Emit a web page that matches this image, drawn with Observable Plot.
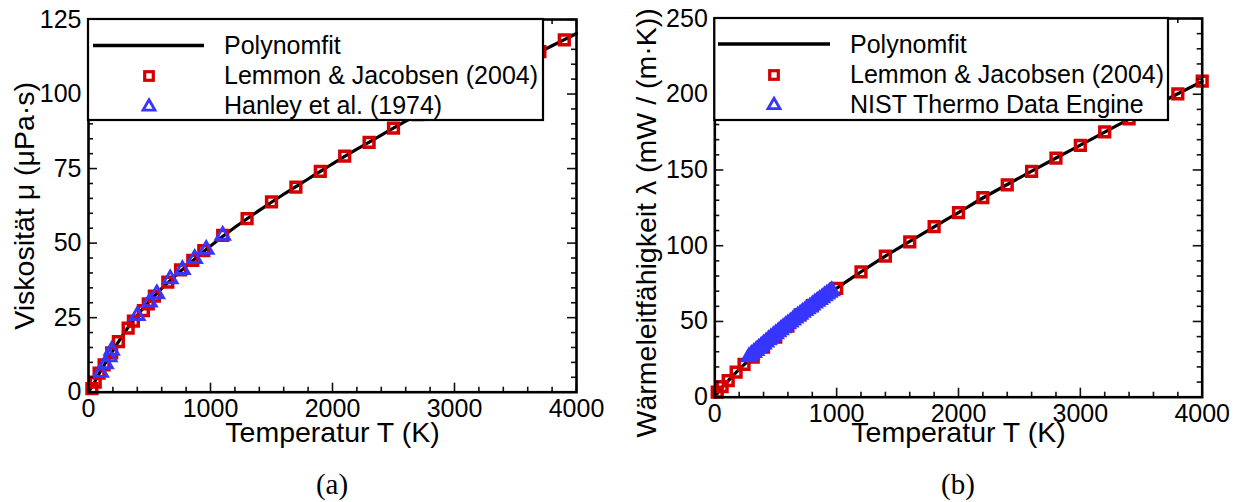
<!DOCTYPE html>
<html>
<head>
<meta charset="utf-8">
<script src="https://cdn.jsdelivr.net/npm/d3@7"></script>
<script src="https://cdn.jsdelivr.net/npm/@observablehq/plot@0.6"></script>
<style>
  html, body { margin: 0; padding: 0; background: #fff; }
  #root { position: relative; width: 1242px; height: 502px; overflow: hidden; }
  .panel { position: absolute; top: 0; }
  #overlay { position: absolute; left: 0; top: 0; z-index: 5; }
</style>
</head>
<body>
<div id="root">
  <div id="pa" class="panel" style="left:0px"></div>
  <div id="pb" class="panel" style="left:621px"></div>
</div>
<script>
// ---------------- data ----------------
const FONT = '"Liberation Sans", Arial, Helvetica, sans-serif';
const RED = "#d40000";
const BLUE = "#3636ff";

const seriesNamesA = ["Polynomfit", "Lemmon & Jacobsen (2004)", "Hanley et al. (1974)"];
const seriesNamesB = ["Polynomfit", "Lemmon & Jacobsen (2004)", "NIST Thermo Data Engine"];
const captions = ["(a)", "(b)"];
const xTitle = "Temperatur T (K)";
const yTitleA = "Viskosität μ (μPa·s)";
const yTitleB = "Wärmeleitfähigkeit λ (mW / (m·K))";

const xMajor = [0, 1000, 2000, 3000, 4000];
const xMinor = [200, 400, 600, 800, 1200, 1400, 1600, 1800, 2200, 2400, 2600, 2800, 3200, 3400, 3600, 3800];
const yMajorA = [0, 25, 50, 75, 100, 125];
const yMinorA = [5, 10, 15, 20, 30, 35, 40, 45, 55, 60, 65, 70, 80, 85, 90, 95, 105, 110, 115, 120];
const yMajorB = [0, 50, 100, 150, 200, 250];
const yMinorB = [10, 20, 30, 40, 60, 70, 80, 90, 110, 120, 130, 140, 160, 170, 180, 190, 210, 220, 230, 240];

// (a) viscosity
const fitT_A  = [0, 50, 100, 200, 300, 400, 500, 600, 700, 800, 900, 1000, 1200, 1400, 1600, 1800, 2000, 2200, 2400, 2600, 2800, 3000, 3200, 3400, 3600, 3800, 4000];
const fitMu_A = [0, 3.4, 7.1, 13.9, 20.3, 25.8, 30.5, 34.8, 38.6, 42.2, 45.6, 49.0, 55.3, 61.0, 66.4, 71.5, 76.6, 81.5, 86.2, 90.9, 95.3, 99.6, 103.9, 108.0, 112.1, 116.2, 120.3];

const lemmonT_A  = [28, 55, 87, 128, 190, 245, 325, 368, 450, 490, 540, 650, 755, 855, 945, 1100, 1300, 1500, 1700, 1900, 2100, 2300, 2500, 2700, 2900, 3100, 3300, 3500, 3700, 3900];
const lemmonMu_A = [1.2, 3.4, 6.4, 9.2, 13.2, 17.0, 21.5, 23.8, 27.4, 29.6, 32.2, 36.9, 41.0, 44.2, 47.5, 52.6, 58.2, 63.8, 68.8, 74.1, 79.2, 83.8, 88.6, 93.1, 97.5, 101.8, 106.0, 110.1, 114.2, 118.2];

const hanleyT_A  = [100, 140, 170, 190, 400, 500, 560, 670, 770, 870, 965, 1100];
const hanleyMu_A = [6.6, 9.5, 11.8, 14.0, 25.7, 30.2, 33.0, 38.0, 41.1, 44.8, 47.9, 52.6];

// (b) thermal conductivity
const fitT_B   = [0, 50, 100, 200, 300, 400, 500, 600, 700, 800, 900, 1000, 1200, 1400, 1600, 1800, 2000, 2200, 2400, 2600, 2800, 3000, 3200, 3400, 3600, 3800, 4000];
const fitLam_B = [0, 5.5, 10.0, 18.3, 26.0, 33.2, 40.2, 47.0, 53.6, 60.0, 66.0, 71.9, 82.8, 93.2, 102.8, 112.5, 121.9, 131.5, 140.4, 149.2, 157.9, 166.4, 175.0, 183.6, 192.0, 200.3, 208.5];

const lemmonT_B   = [20, 60, 110, 175, 240, 315, 400, 500, 600, 700, 800, 1000, 1200, 1400, 1600, 1800, 2000, 2200, 2400, 2600, 2800, 3000, 3200, 3400, 3600, 3800, 4000];
const lemmonLam_B = [3.3, 7.0, 11.0, 16.6, 21.6, 26.5, 33.0, 39.7, 47.0, 54.3, 60.5, 71.8, 82.8, 93.2, 102.6, 112.6, 121.9, 131.8, 140.2, 149.0, 157.9, 166.2, 175.1, 183.7, 192.0, 200.3, 208.6];

const nistT_B   = [280, 300, 320, 340, 360, 380, 400, 420, 440, 460, 480, 500, 520, 540, 560, 580, 600, 620, 640, 660, 680, 700, 720, 740, 760, 780, 800, 820, 840, 860, 880, 900, 920, 940, 960];
const nistLam_B = [26.6, 28.0, 29.4, 30.8, 32.2, 33.6, 35.0, 36.4, 37.8, 39.1, 40.5, 41.8, 43.1, 44.4, 45.7, 47.0, 48.3, 49.6, 50.9, 52.2, 53.5, 54.7, 55.9, 57.1, 58.3, 59.5, 60.8, 62.0, 63.2, 64.4, 65.6, 66.8, 68.0, 69.1, 70.2];

// ---------------- build ----------------
const zip = (xs, ys) => xs.map((x, i) => ({T: x, v: ys[i]}));

function panel(o) {
  const y0 = o.ydomain[0], y1 = o.ydomain[1];
  const tk = {stroke: "#111", strokeWidth: 1.6};
  return Plot.plot({
    width: 621, height: 460,
    marginLeft: o.ml, marginRight: o.mr, marginTop: o.mt, marginBottom: o.mb,
    style: {fontFamily: FONT, fontSize: "25px", color: "#000", background: "transparent", overflow: "visible"},
    x: {domain: [0, 4000]},
    y: {domain: o.ydomain},
    marks: [
      Plot.line(o.fit, {x: "T", y: "v", stroke: "#000", strokeWidth: 3.2, curve: "monotone-x"}),
      Plot.dot(o.sq, {x: "T", y: "v", symbol: "square", r: 5.5, stroke: RED, strokeWidth: 3.5, fill: "none"}),
      Plot.dot(o.tri, {x: "T", y: "v", symbol: "triangle", r: 5.0, stroke: BLUE, strokeWidth: 2.9, fill: "none"}),
      // inward ticks, bottom / top
      Plot.ruleX(xMajor, {x: d => d, y1: y0, y2: y0, insetTop: -9, ...tk}),
      Plot.ruleX(xMinor, {x: d => d, y1: y0, y2: y0, insetTop: -5, ...tk}),
      Plot.ruleX(xMajor, {x: d => d, y1: y1, y2: y1, insetBottom: -9, ...tk}),
      Plot.ruleX(xMinor, {x: d => d, y1: y1, y2: y1, insetBottom: -5, ...tk}),
      // inward ticks, left / right
      Plot.ruleY(o.yMajor, {y: d => d, x1: 0, x2: 0, insetRight: -9, ...tk}),
      Plot.ruleY(o.yMinor, {y: d => d, x1: 0, x2: 0, insetRight: -5, ...tk}),
      Plot.ruleY(o.yMajor, {y: d => d, x1: 4000, x2: 4000, insetLeft: -9, ...tk}),
      Plot.ruleY(o.yMinor, {y: d => d, x1: 4000, x2: 4000, insetLeft: -5, ...tk}),
      Plot.frame({stroke: "#000", strokeWidth: 2.6}),
      Plot.axisX(xMajor, {tickSize: 0, tickPadding: o.xpad, tickFormat: d => String(d), label: null, fontSize: 25, fill: "#000"}),
      Plot.axisY(o.yMajor, {tickSize: 0, tickPadding: 7, tickFormat: d => String(d), label: null, fontSize: 25, fill: "#000"}),
      Plot.text([xTitle], {text: d => d, frameAnchor: "bottom", textAnchor: "middle", lineAnchor: "bottom", dy: o.xdy, fontSize: 28.5, fill: "#000"}),
      Plot.text([o.yTitle], {text: d => d, frameAnchor: "left", textAnchor: "middle", rotate: -90, lineAnchor: "bottom", dx: o.ydx, dy: o.ydy, fontSize: 28.5, fill: "#000"})
    ]
  });
}

document.getElementById("pa").append(panel({
  ml: 88, mr: 45, mt: 19, mb: 68.3, ydomain: [0, 125],
  yMajor: yMajorA, yMinor: yMinorA,
  fit: zip(fitT_A, fitMu_A), sq: zip(lemmonT_A, lemmonMu_A), tri: zip(hanleyT_A, hanleyMu_A),
  yTitle: yTitleA, xpad: 7, xdy: 50, ydx: -54.5, ydy: 0
}));
document.getElementById("pb").append(panel({
  ml: 93.3, mr: 40.3, mt: 18, mb: 63.3, ydomain: [0, 250],
  yMajor: yMajorB, yMinor: yMinorB,
  fit: zip(fitT_B, fitLam_B), sq: zip(lemmonT_B, lemmonLam_B), tri: zip(nistT_B, nistLam_B),
  yTitle: yTitleB, xpad: 7, xdy: 44.5, ydx: -59.3, ydy: 15
}));

// ---------------- legends & captions (overlay) ----------------
const NS = "http://www.w3.org/2000/svg";
const ov = document.createElementNS(NS, "svg");
ov.setAttribute("id", "overlay");
ov.setAttribute("width", 1242);
ov.setAttribute("height", 502);
document.getElementById("root").append(ov);
function el(tag, attrs, text) {
  const e = document.createElementNS(NS, tag);
  for (const k in attrs) e.setAttribute(k, attrs[k]);
  if (text != null) e.textContent = text;
  ov.append(e);
  return e;
}
function legend(L, names) {
  el("rect", {x: L.x0, y: L.y0, width: L.x1 - L.x0, height: L.y1 - L.y0, fill: "#fff", stroke: "#000", "stroke-width": 2.2});
  el("line", {x1: L.lx0, x2: L.lx1, y1: L.ly, y2: L.ly, stroke: "#000", "stroke-width": 3.6});
  const s = 8.6;
  el("rect", {x: L.sx - s / 2, y: L.sy - s / 2, width: s, height: s, fill: "none", stroke: RED, "stroke-width": 3.2});
  const h = 10.5, w = 12;
  el("polygon", {points: `${L.sx},${L.ty - h * 0.6} ${L.sx + w / 2},${L.ty + h * 0.4} ${L.sx - w / 2},${L.ty + h * 0.4}`, fill: "none", stroke: BLUE, "stroke-width": 2.8, "stroke-linejoin": "miter"});
  names.forEach((n, i) => el("text", {x: L.tx, y: L.tb[i], "font-family": FONT, "font-size": 25, fill: "#000"}, n));
}
legend({x0: 88, y0: 19, x1: 543, y1: 120, lx0: 93, lx1: 204, ly: 45.5, sx: 149, sy: 76, ty: 106, tx: 224, tb: [54, 84, 114]}, seriesNamesA);
legend({x0: 714.3, y0: 18, x1: 1168, y1: 120, lx0: 718, lx1: 830, ly: 44, sx: 774, sy: 75, ty: 104.5, tx: 850, tb: [52.5, 82.5, 112.5]}, seriesNamesB);

const capFont = '"Liberation Serif", "Times New Roman", serif';
el("text", {x: 332, y: 494, "text-anchor": "middle", "font-family": capFont, "font-size": 29, fill: "#000"}, captions[0]);
el("text", {x: 958, y: 494, "text-anchor": "middle", "font-family": capFont, "font-size": 29, fill: "#000"}, captions[1]);
</script>
</body>
</html>
